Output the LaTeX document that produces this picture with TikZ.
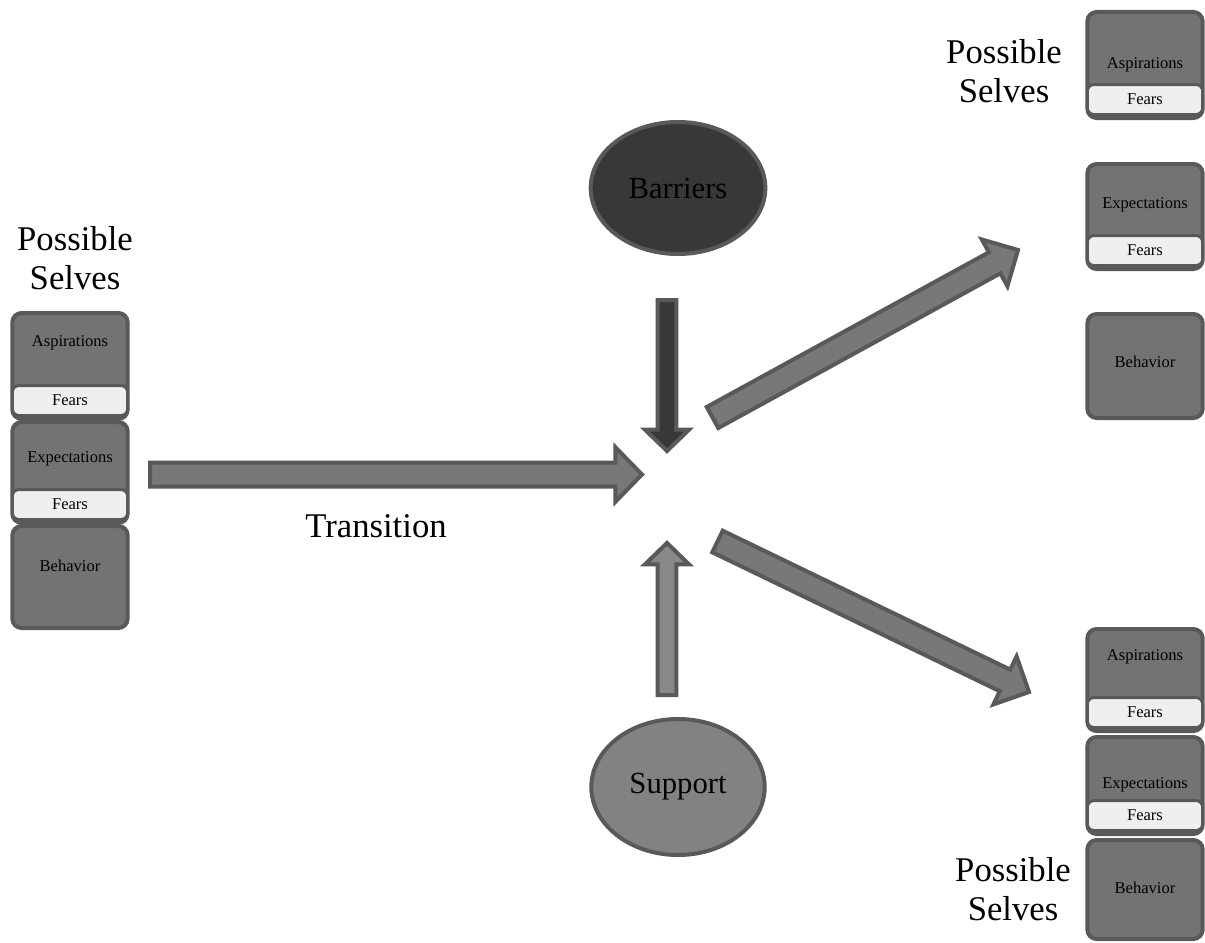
\documentclass[tikz,border=0pt]{standalone}
\usepackage{fontspec}
\setmainfont{Liberation Serif}
\usetikzlibrary{calc, shapes.geometric, positioning}

\definecolor{edgegray}{HTML}{595959}
\definecolor{boxgray}{HTML}{737373}
\definecolor{arrowgray}{HTML}{787878}
\definecolor{barrierfill}{HTML}{383838}
\definecolor{supportfill}{HTML}{828282}
\definecolor{supportarrow}{HTML}{888888}
\definecolor{fearsfill}{HTML}{EFEFEF}

\tikzset{
    selfbox/.style={draw=edgegray, fill=boxgray, line width=3pt, rounded corners=7pt,
        minimum width=86.5pt, inner sep=0pt},
    fearsbar/.style={draw=edgegray, fill=fearsfill, line width=2.2pt, rounded corners=5pt,
        minimum width=86.5pt, minimum height=22.5pt, inner sep=0pt,
        font=\fontsize{12.4}{14}\selectfont},
    boxlabel/.style={inner sep=0pt, font=\fontsize{12.4}{14}\selectfont},
    biglabel/.style={align=center, inner sep=0pt, font=\fontsize{26}{29.5}\selectfont},
    blob/.style={ellipse, draw=edgegray, line width=3pt, inner sep=0pt,
        font=\fontsize{23}{26}\selectfont},
    blockarrow/.style={draw=edgegray, fill=arrowgray, line width=3pt, line join=miter}
}

% box of one possible self: name, centre x, top, bottom, label y, label
\newcommand{\selfbox}[6]{%
    \node[selfbox, anchor=north, minimum height={(#4-#3)*0.75pt}] (#1) at (#2,#3) {};
    \node[boxlabel] (#1-lab) at (#2,#5) {#6};
}
% light strip at the bottom of a box
\newcommand{\fearsstrip}[3]{%
    \node[fearsbar, anchor=south] (#1) at (#2,#3) {Fears};
}
% wide arrow: style, tail, tip, half shaft, half head, head length
\newcommand{\widearrow}[6]{%
    \coordinate (hb) at ($(#3)!#6!(#2)$);
    \draw[blockarrow, #1] ($(#2)!#4!90:(#3)$) -- ($(hb)!#4!90:(#3)$) -- ($(hb)!#5!90:(#3)$)
        -- (#3) -- ($(hb)!#5!-90:(#3)$) -- ($(hb)!#4!-90:(#3)$) -- ($(#2)!#4!-90:(#3)$) -- cycle;
}

\begin{document}
\begin{tikzpicture}[x=0.75pt, y=-0.75pt]
    \useasboundingbox (0,0) rectangle (1205,942);

    % left stack
    \node[biglabel] (lsel) at (75,258) {Possible\\Selves};
    \selfbox{lasp}{70}{311}{417}{343}{Aspirations}
    \fearsstrip{lasp-f}{70}{417}
    \selfbox{lexp}{70}{420}{521}{459}{Expectations}
    \fearsstrip{lexp-f}{70}{521}
    \selfbox{lbeh}{70}{524}{626}{566}{Behavior}

    % right top stack
    \node[biglabel] (rtsel) at (1004,71) {Possible\\Selves};
    \selfbox{tasp}{1145}{10}{116}{65}{Aspirations}
    \fearsstrip{tasp-f}{1145}{116}
    \selfbox{texp}{1145}{162}{267}{205}{Expectations}
    \fearsstrip{texp-f}{1145}{267}
    \selfbox{tbeh}{1145}{312}{416}{362}{Behavior}

    % right bottom stack
    \node[biglabel] (rbsel) at (1013,889) {Possible\\Selves};
    \selfbox{basp}{1145}{627}{729}{657}{Aspirations}
    \fearsstrip{basp-f}{1145}{729}
    \selfbox{bexp}{1145}{735}{832}{785}{Expectations}
    \fearsstrip{bexp-f}{1145}{832}
    \selfbox{bbeh}{1145}{838}{937}{888}{Behavior}

    % influences
    \node[blob, fill=barrierfill, minimum width=131pt, minimum height=99pt] (barriers) at (678,188) {Barriers};
    \node[blob, fill=supportfill, minimum width=130pt, minimum height=102pt] (support) at (678,787) {Support};

    \coordinate (trtail) at (150,474.5);
    \coordinate (trtip) at (642,474.5);
    \coordinate (battail) at (667,300);
    \coordinate (battip) at (667,451);
    \coordinate (suptail) at (667,695);
    \coordinate (suptip) at (667,543);
    \coordinate (uptail) at (712.5,417.5);
    \coordinate (uptip) at (1018,250);
    \coordinate (dntail) at (717.5,541.5);
    \coordinate (dntip) at (1029,692);

    \widearrow{}{trtail}{trtip}{9pt}{20.5pt}{20pt}
    \widearrow{fill=barrierfill}{battail}{battip}{7pt}{16.5pt}{16pt}
    \widearrow{fill=supportarrow}{suptail}{suptip}{7pt}{16.5pt}{16pt}
    \widearrow{}{uptail}{uptip}{9pt}{20pt}{20pt}
    \widearrow{}{dntail}{dntip}{9pt}{20pt}{20pt}

    \node[biglabel] (transition) at (376,526) {Transition};
\end{tikzpicture}
\end{document}
